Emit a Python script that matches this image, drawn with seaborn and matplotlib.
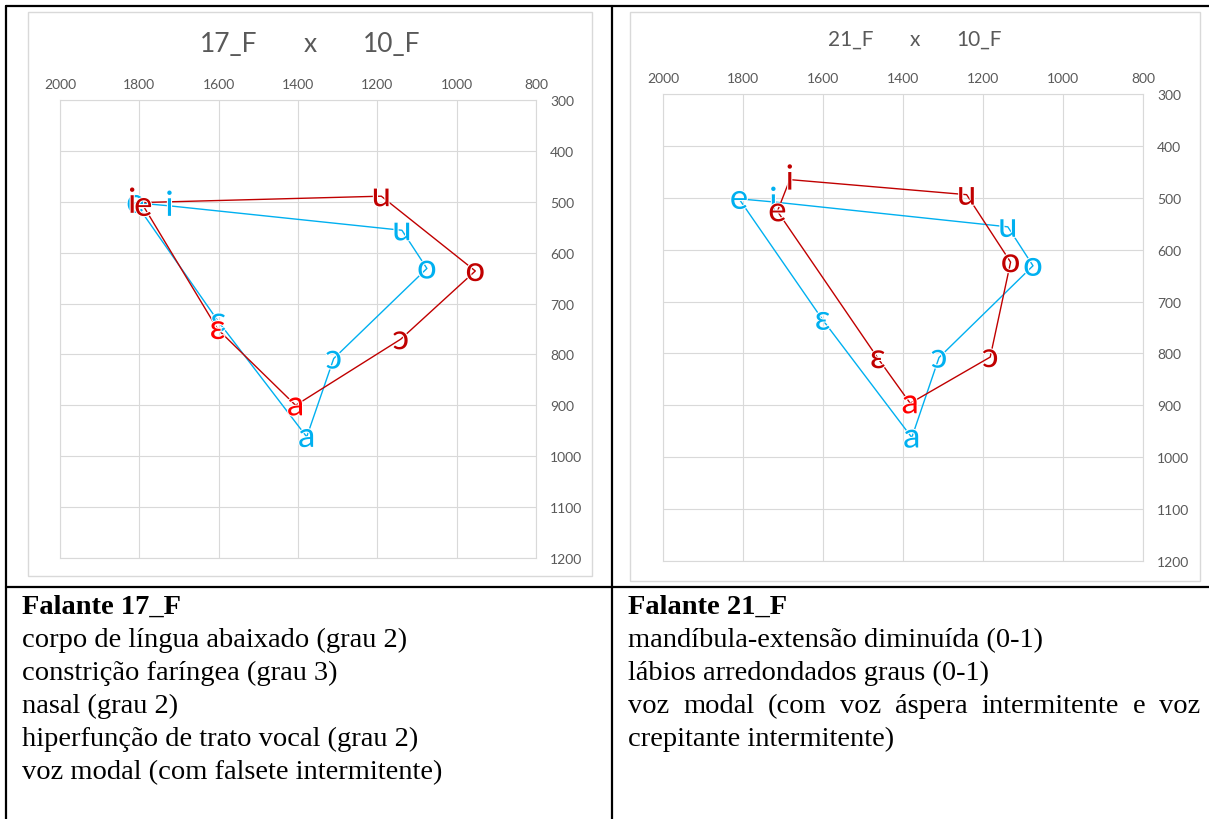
import numpy as np
import pandas as pd
import matplotlib
matplotlib.use('Agg')
import matplotlib.pyplot as plt
import seaborn as sns
import matplotlib.patheffects as pe
from matplotlib.patches import Rectangle
from matplotlib.lines import Line2D

# Vogais (F2, F1 em Hz)
vogais = ['i', 'e', 'ɛ', 'a', 'ɔ', 'o', 'u']
ordem = ['e', 'i', 'u', 'o', 'ɔ', 'a', 'ɛ', 'e']  # contorno fechado

f2_10F = [1724, 1810, 1601, 1378, 1310, 1075, 1138]
f1_10F = [508, 502, 735, 962, 808, 631, 556]

f2_17F = [1818, 1790, 1603, 1406, 1141, 953, 1190]
f1_17F = [502, 508, 750, 900, 770, 636, 489]

f2_21F = [1683, 1714, 1463, 1382, 1182, 1131, 1241]
f1_21F = [465, 526, 809, 896, 807, 624, 494]

texto_17F = ['corpo de língua abaixado (grau 2)',
             'constrição faríngea (grau 3)',
             'nasal (grau 2)',
             'hiperfunção de trato vocal (grau 2)',
             'voz modal (com falsete intermitente)']
texto_21F = ['mandíbula-extensão diminuída (0-1)',
             'lábios arredondados graus (0-1)',
             'voz modal (com voz áspera intermitente e voz',
             'crepitante intermitente)']

AZUL = '#00B0F0'
VERMELHO = '#C00000'
CINZA = '#D9D9D9'
TXT = '#595959'

sns.set_style('white')
plt.rcParams['font.family'] = ['Lato', 'Noto Sans', 'DejaVu Sans']

W, H = 1209, 820
fig = plt.figure(figsize=(W / 100, H / 100), dpi=100)


def fx(px):
    return px / W


def fy(py):
    return 1 - py / H


def contorno(f2, f1):
    df = pd.DataFrame({'vogal': vogais, 'F2': f2, 'F1': f1}).set_index('vogal')
    return df.loc[ordem].reset_index()


def grafico(caixa, frame, f2, f1, titulo, tam_titulo, y_titulo, cores_fortes):
    x0, y0, x1, y1 = frame
    fig.add_artist(Rectangle((fx(x0), fy(y1)), fx(x1 - x0), (y1 - y0) / H,
                             transform=fig.transFigure, fill=False, ec=CINZA, lw=1))
    l, t, r, b = caixa
    ax = fig.add_axes([fx(l), fy(b), fx(r - l), (b - t) / H])

    sns.lineplot(data=contorno(f2_10F, f1_10F), x='F2', y='F1', sort=False,
                 estimator=None, color=AZUL, lw=1, ax=ax)
    sns.lineplot(data=contorno(f2, f1), x='F2', y='F1', sort=False,
                 estimator=None, color=VERMELHO, lw=1, ax=ax)

    halo = [pe.withStroke(linewidth=1.5, foreground='white')]
    for v, x, y in zip(vogais, f2_10F, f1_10F):
        ax.text(x, y, v, ha='center', va='center', color=AZUL, fontsize=25,
                path_effects=halo, zorder=5)
    for v, x, y in zip(vogais, f2, f1):
        cor = '#FF0000' if v in cores_fortes else VERMELHO
        ax.text(x, y, v, ha='center', va='center', color=cor, fontsize=25,
                path_effects=halo, zorder=6)

    ax.set_xlim(2000, 800)
    ax.set_ylim(1200, 300)
    ax.set_xticks(range(800, 2001, 200))
    ax.set_yticks(range(300, 1201, 100))
    ax.xaxis.tick_top()
    ax.yaxis.tick_right()
    ax.tick_params(length=0, labelsize=10, labelcolor=TXT)
    ax.tick_params(axis='x', pad=7)
    ax.tick_params(axis='y', pad=10)
    ax.set_xlabel('')
    ax.set_ylabel('')
    ax.grid(True, color=CINZA, lw=0.8)
    for s in ax.spines.values():
        s.set_color(CINZA)
        s.set_linewidth(0.8)

    cx = (x0 + x1) / 2
    passo = tam_titulo * 4.3
    for dx, parte in zip([-passo, 0, passo], titulo):
        fig.text(fx(cx + dx), fy(y_titulo), parte, ha='center', va='center',
                 color=TXT, fontsize=tam_titulo)
    return ax


grafico((60, 101, 536, 559), (28, 13, 592, 577), f2_17F, f1_17F,
        ['17_F', 'x', '10_F'], 19, 45, ['a', 'ɛ'])
grafico((663, 95, 1143, 562), (630, 13, 1200, 582), f2_21F, f1_21F,
        ['21_F', 'x', '10_F'], 15, 40, ['a'])

# Linhas da tabela
tabela = dict(color='black', lw=1.6, transform=fig.transFigure)
fig.add_artist(Line2D([fx(6), fx(1209)], [fy(7), fy(7)], **tabela))
fig.add_artist(Line2D([fx(6), fx(1209)], [fy(588), fy(588)], **tabela))
fig.add_artist(Line2D([fx(6), fx(6)], [fy(7), fy(820)], **tabela))
fig.add_artist(Line2D([fx(612), fx(612)], [fy(7), fy(820)], **tabela))

# Texto das celulas
serif = dict(family='Liberation Serif', fontsize=20.5, color='black', va='baseline')
base = [614, 647, 680, 713, 746, 779]

fig.text(fx(22), fy(base[0]), 'Falante 17_F', fontweight='bold', **serif)
for yb, linha in zip(base[1:], texto_17F):
    fig.text(fx(22), fy(yb), linha, **serif)

fig.text(fx(628), fy(base[0]), 'Falante 21_F', fontweight='bold', **serif)
rend = fig.canvas.get_renderer()
for i, (yb, linha) in enumerate(zip(base[1:], texto_21F)):
    if i == 2:
        palavras = linha.split()
        objs = [fig.text(0, fy(yb), p, **serif) for p in palavras]
        larg = [o.get_window_extent(rend).width for o in objs]
        gap = ((1200 - 628) - sum(larg)) / (len(palavras) - 1)
        x = 628
        for o, w in zip(objs, larg):
            o.set_x(fx(x))
            x += w + gap
    else:
        fig.text(fx(628), fy(yb), linha, **serif)

fig.savefig('out.png', dpi=100)
